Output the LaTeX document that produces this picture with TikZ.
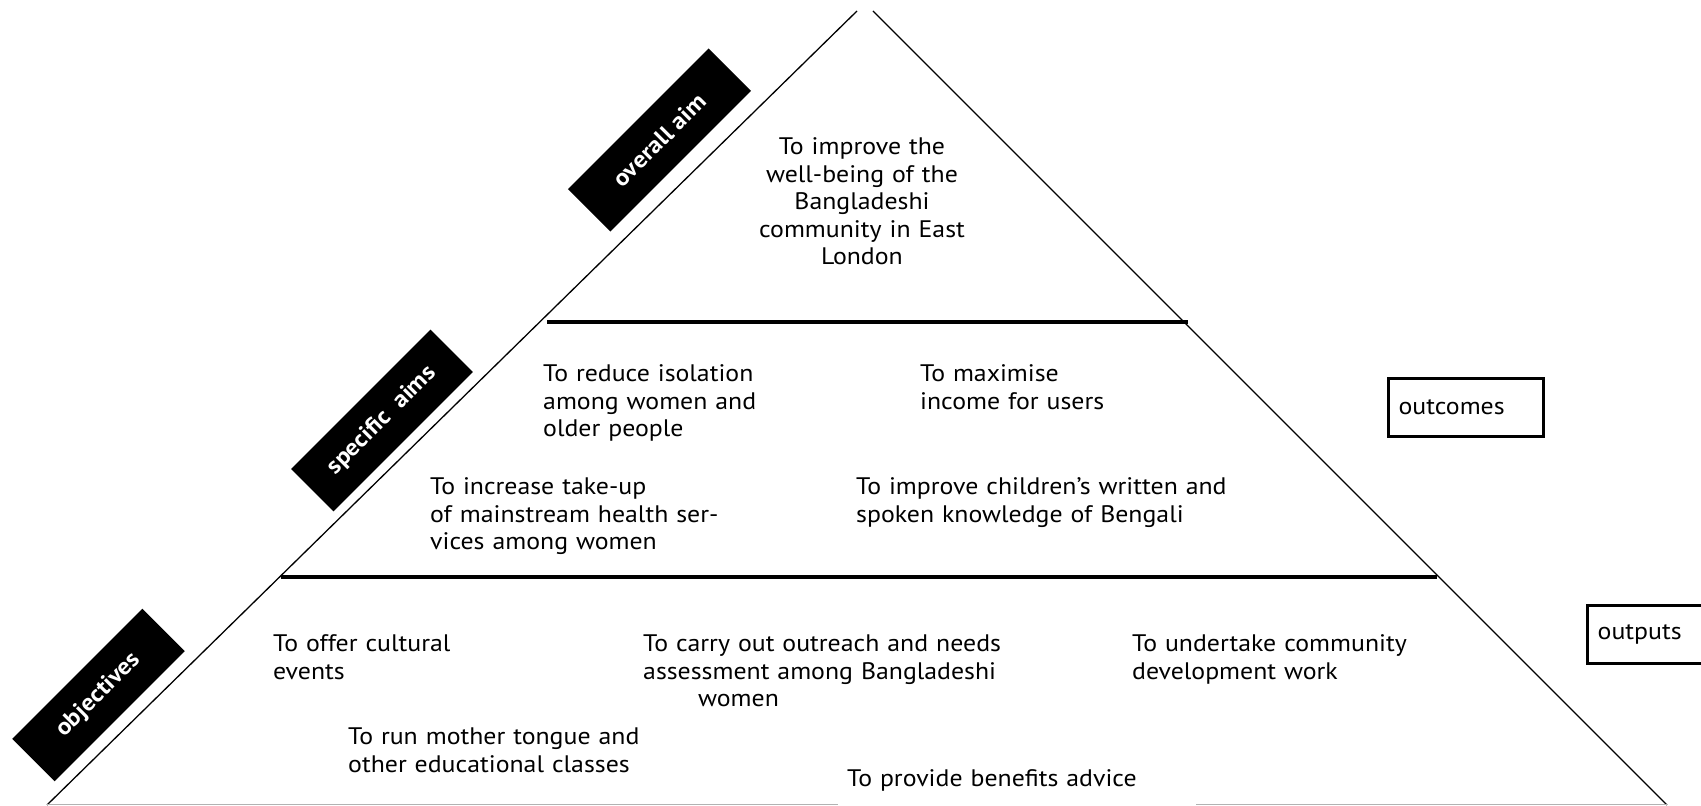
\documentclass[tikz,border=0pt]{standalone}
\usepackage{fontspec}
\setmainfont[FakeStretch=1.08]{PT Sans}
\tikzset{
  aimtext/.style={font=\fontsize{23.9}{27.5}\selectfont, inner sep=0pt, text width=440pt, align=left, anchor=base west},
  levelbox/.style={fill=black, text=white, font=\fontsize{23.5}{26}\selectfont\bfseries, rotate=45, inner sep=0pt, minimum height=60pt},
  sidebox/.style={draw, line width=3.3pt, font=\fontsize{23.9}{27.5}\selectfont, inner xsep=10pt, inner ysep=0pt, align=left, minimum height=58pt, anchor=south west},
  edge/.style={line width=1.3pt},
  divider/.style={line width=3.3pt}
}
\begin{document}
\begin{tikzpicture}[x=1pt,y=1pt]
        \useasboundingbox (0,0) rectangle (1701,806);

        % Pyramid corners
        \coordinate (topL) at (857,795);
        \coordinate (topR) at (873,795);
        \coordinate (baseL) at (47,1);
        \coordinate (baseR) at (1667,1);
        \draw[edge] (topL) -- (baseL);
        \draw[edge] (topR) -- (baseR);

        % Tier dividers
        \coordinate (midL) at (547,484);
        \coordinate (midR) at (1188,484);
        \coordinate (lowL) at (281,229);
        \coordinate (lowR) at (1437,229);
        \draw[divider] (midL) -- (midR);
        \draw[divider] (lowL) -- (lowR);

        % Base line (broken under the last objective)
        \coordinate (gapL) at (838,1);
        \coordinate (gapR) at (1196,1);
        \draw[gray!60, line width=1pt] (baseL) -- (gapL);
        \draw[gray!60, line width=1pt] (gapR) -- (baseR);

        % Level tags
        \node[levelbox, minimum width=199pt] (overallaim) at (659.5,666) {overall aim};
        \node[levelbox, minimum width=197pt] (specaims) at (382,385.5) {specific\ \ aims};
        \node[levelbox, minimum width=184pt] (objectives) at (98.5,111) {objectives};

        % Overall aim
        \node[aimtext, anchor=base, align=center, text width=300pt] (wellbeing) at (862,651)
            {To improve the\\ well-being of the\\ Bangladeshi\\ community in East\\ London};

        % Specific aims
        \node[aimtext] (isolation) at (543,424) {To reduce isolation\\ among women and\\ older people};
        \node[aimtext] (income) at (920,424) {To maximise\\ income for users};
        \node[aimtext] (health) at (430,311) {To increase take-up\\ of mainstream health ser-\\ vices among women};
        \node[aimtext] (bengali) at (856,311) {To improve children’s written and\\ spoken knowledge of Bengali};

        % Objectives
        \node[aimtext] (cultural) at (273,154) {To offer cultural\\ events};
        \node[aimtext] (outreach) at (643,154) {To carry out outreach and needs\\ assessment among Bangladeshi\\ \hspace*{55pt}women};
        \node[aimtext] (community) at (1132,154) {To undertake community\\ development work};
        \node[aimtext] (mothertongue) at (348,61) {To run mother tongue and\\ other educational classes};
        \node[aimtext] (benefits) at (847,19) {To provide benefits advice};

        % Side boxes
        \node[sidebox, text width=135pt] (outcomes) at (1387,368) {outcomes};
        \node[sidebox, text width=150pt] (outputs) at (1586,141) {outputs};
    \end{tikzpicture}
\end{document}
